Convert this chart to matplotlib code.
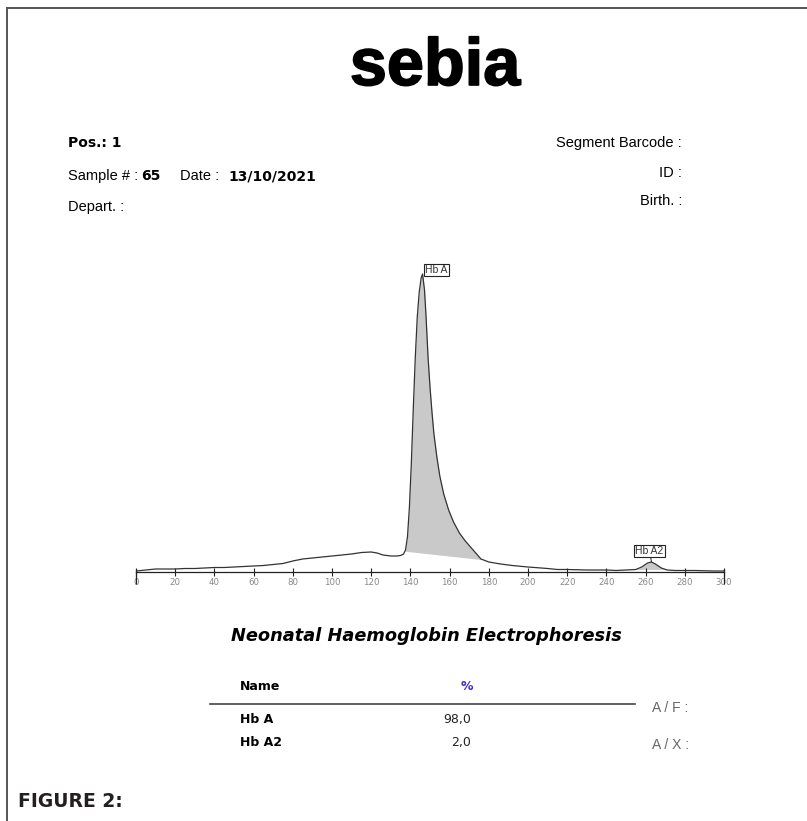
import numpy as np
import matplotlib
matplotlib.use("Agg")
import matplotlib.pyplot as plt
import matplotlib.patheffects as pe
from matplotlib.lines import Line2D

plt.rcParams['font.family'] = ['DejaVu Sans']

# electrophoresis trace (migration position, signal)
trace_x = [0, 5, 10, 15, 20, 25, 30, 35, 40, 45, 50, 55, 60, 65, 70, 75, 80, 85, 90, 95,
           100, 105, 110, 115, 120, 123, 126, 130, 133, 135, 136.5, 137.5, 138.5, 139.5,
           140.5, 141.5, 142.5, 143.5, 144.5, 145.5, 146.2, 147.2, 148, 149, 150, 151, 152,
           153.5, 155, 157, 159.5, 162, 165, 168, 172, 176, 180, 186, 192, 200, 210, 215,
           220, 230, 240, 245, 250, 255, 258, 261, 263, 265, 268, 271, 275, 285, 295, 300]
trace_y = [1, 2, 3, 3, 3, 3.5, 3.5, 4, 4.5, 4.5, 5, 5.5, 6, 6.5, 7.5, 8.5, 11, 13, 14, 15,
           16, 17, 18, 19.5, 20, 19, 17, 16, 16, 16.5, 18, 22, 35, 65,
           110, 165, 215, 255, 280, 294, 298, 282, 255, 215, 185, 160, 138,
           115, 96, 78, 62, 50, 39, 31, 22, 13, 10, 8, 6.5, 5, 3.5, 2.5,
           2.5, 2, 2, 1.5, 2, 2.5, 5, 9, 10, 8, 4, 2, 1.5, 1.5, 1, 1]

# fractions
frac_names = ["Hb A", "Hb A2"]
frac_pct = ["98,0", "2,0"]
frac_peak = [146.2, 263]
frac_start = [137.2, 255]
frac_end = [177, 270]

ticks = list(range(0, 301, 20))

W, H = 807, 821
fig = plt.figure(figsize=(W / 100, H / 100), dpi=100)


def fx(x):
    return x / W


def fy(y):
    return 1 - y / H


# page border
fig.add_artist(Line2D([fx(7), fx(7)], [fy(8), 0], color="#555555", lw=1.4))
fig.add_artist(Line2D([fx(7), 1], [fy(8), fy(8)], color="#555555", lw=1.4))

# logo
fig.text(fx(435), fy(68), "sebia", ha="center", va="center", fontsize=48,
         family="Liberation Sans", fontweight="bold", color="black",
         path_effects=[pe.withStroke(linewidth=1.2, foreground="black")])

# header
hs = 10.5
bs = 10
hf = "Liberation Sans"
fig.text(fx(68), fy(143), "Pos.: 1", fontsize=bs, fontweight="bold", va="center")
fig.text(fx(68), fy(176), "Sample # :", fontsize=hs, va="center", family=hf)
fig.text(fx(141), fy(176), "65", fontsize=bs, fontweight="bold", va="center")
fig.text(fx(180), fy(176), "Date :", fontsize=hs, va="center", family=hf)
fig.text(fx(228), fy(176), "13/10/2021", fontsize=bs, fontweight="bold", va="center")
fig.text(fx(68), fy(207), "Depart. :", fontsize=hs, va="center", family=hf)
fig.text(fx(682), fy(143), "Segment Barcode :", fontsize=hs, ha="right", va="center", family=hf)
fig.text(fx(682), fy(173), "ID :", fontsize=hs, ha="right", va="center", family=hf)
fig.text(fx(682), fy(201), "Birth. :", fontsize=hs, ha="right", va="center", family=hf)

# trace axes
base_px = 572
ax = fig.add_axes([fx(136), fy(base_px), (724 - 136) / W, 310 / H])
ax.set_xlim(0, 300)
ax.set_ylim(0, 310)
tx = np.array(trace_x)
ty = np.array(trace_y)
for s, e in zip(frac_start, frac_end):
    xx = np.linspace(s, e, 200)
    top = np.interp(xx, tx, ty)
    bot = np.interp(xx, [s, e], [np.interp(s, tx, ty), np.interp(e, tx, ty)])
    ax.fill_between(xx, bot, top, color="#c9c9c9", lw=0)
ax.plot(tx, ty, color="#333333", lw=0.9)

for sp in ["top", "right", "left"]:
    ax.spines[sp].set_visible(False)
ax.spines["bottom"].set_color("#222222")
ax.spines["bottom"].set_linewidth(0.9)
ax.set_yticks([])
ax.set_xticks(ticks)
ax.tick_params(axis="x", direction="inout", length=6, width=0.8, color="#222222",
               labelsize=6.2, labelcolor="#888888", pad=1)
ax.vlines([0, 300], -12, 3, color="#222222", lw=0.9, clip_on=False)
ax.patch.set_alpha(0)

# peak labels
ax.annotate(frac_names[0], (frac_peak[0], 298), xytext=(frac_peak[0] + 1.3, 297),
            fontsize=7.5, ha="left", va="bottom", color="#333333",
            family="Liberation Sans",
            bbox=dict(boxstyle="square,pad=0.12", fc="white", ec="#222222", lw=0.8))
ax.annotate(frac_names[1], (frac_peak[1], 10), xytext=(frac_peak[1] - 1, 16),
            fontsize=7.5, ha="center", va="bottom", color="#333333",
            family="Liberation Sans",
            arrowprops=dict(arrowstyle="-", color="#222222", lw=0.7, shrinkA=0, shrinkB=0),
            bbox=dict(boxstyle="square,pad=0.12", fc="white", ec="#222222", lw=0.8))

# results
fig.text(fx(426), fy(636), "Neonatal Haemoglobin Electrophoresis", ha="center", va="center",
         fontsize=12.8, fontweight="bold", style="italic")
fig.text(fx(240), fy(686), "Name", fontsize=9, fontweight="bold", va="center")
fig.text(fx(467), fy(686), "%", fontsize=9, fontweight="bold", va="center", ha="center",
         color="#3a2fd0")
fig.add_artist(Line2D([fx(210), fx(635)], [fy(704), fy(704)], color="#444444", lw=1.2))
row_y = [719, 742]
for name, pct, y in zip(frac_names, frac_pct, row_y):
    fig.text(fx(240), fy(y), name, fontsize=9, fontweight="bold", va="center")
    fig.text(fx(471), fy(y), pct, fontsize=9, va="center", ha="right", color="#222222")
fig.text(fx(652), fy(708), "A / F :", fontsize=10, va="center", color="#666666",
         family="Liberation Sans")
fig.text(fx(652), fy(745), "A / X :", fontsize=10, va="center", color="#666666",
         family="Liberation Sans")

fig.text(fx(18), fy(801), "FIGURE 2:", fontsize=13.5, fontweight="bold", va="center",
         color="#231f20")

fig.savefig("out.png", dpi=100)
